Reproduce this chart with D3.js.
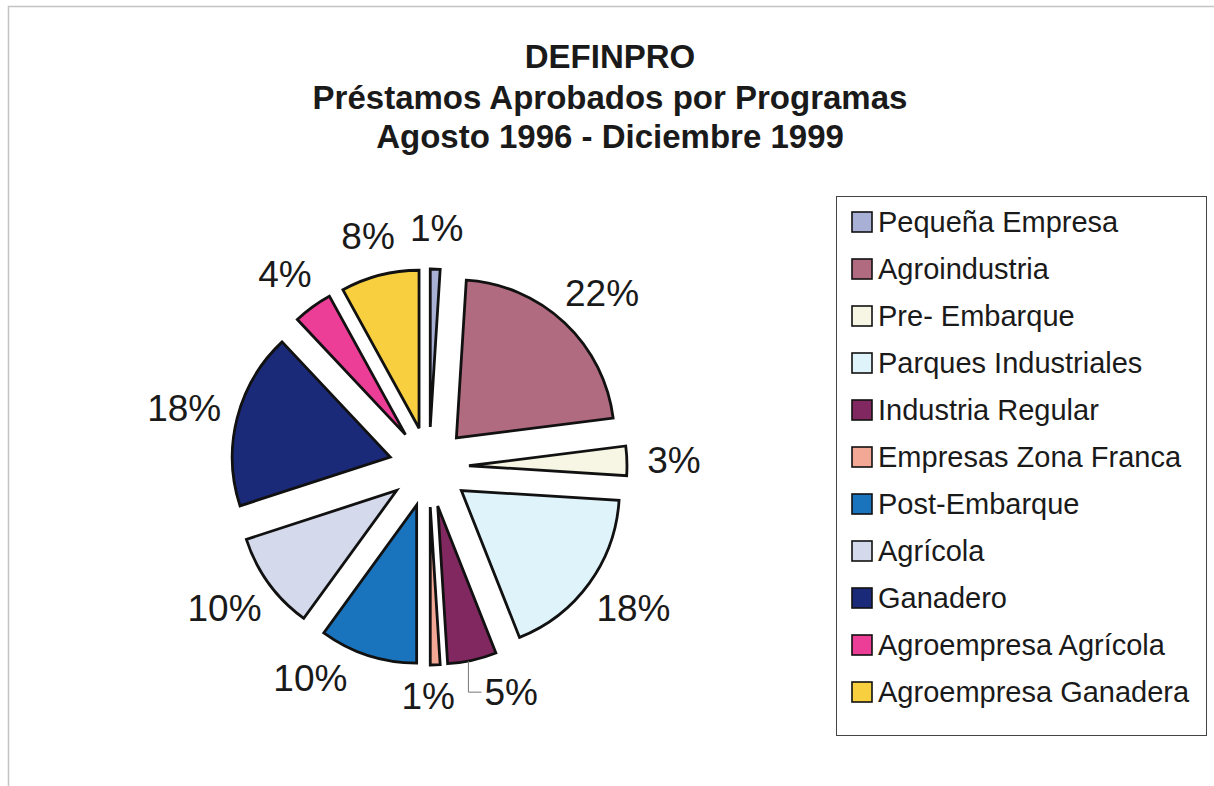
<!DOCTYPE html>
<html>
<head>
<meta charset="utf-8">
<script src="https://cdn.jsdelivr.net/npm/d3@7"></script>
<style>
  html, body { margin: 0; padding: 0; background: #ffffff; }
  svg { display: block; }
  text { font-family: Arial, "Liberation Sans", Helvetica, sans-serif; }
</style>
</head>
<body>
<svg id="chart" width="1214" height="786"></svg>
<script>
// ---- Data ----
const titleLines = ["DEFINPRO", "Préstamos Aprobados por Programas", "Agosto 1996 - Diciembre 1999"];
const categories = [
  "Pequeña Empresa", "Agroindustria", "Pre- Embarque", "Parques Industriales",
  "Industria Regular", "Empresas Zona Franca", "Post-Embarque", "Agrícola",
  "Ganadero", "Agroempresa Agrícola", "Agroempresa Ganadera"
];
const values = [1, 22, 3, 18, 5, 1, 10, 10, 18, 4, 8];
const colors = [
  "#a9b0d6", "#b06b80", "#f7f6e4", "#dff3fa", "#80285f", "#f3a795",
  "#1a74bd", "#d5d9ec", "#1b2a78", "#ec3d97", "#f7cf3f"
];

// ---- Layout ----
const svg = d3.select("#chart");
const cx = 429, cy = 467, radius = 158, explode = 40, labelR = 225;
const labelFont = 37;

// outer frame
svg.append("rect").attr("x", 8.5).attr("y", 6.5).attr("width", 1240).attr("height", 800)
  .attr("fill", "none").attr("stroke", "#c4c4c4").attr("stroke-width", 1.5);

// title
const titleY = [68, 109, 148];
titleLines.forEach((t, i) => {
  svg.append("text").attr("x", 610).attr("y", titleY[i]).attr("text-anchor", "middle")
    .attr("font-weight", "bold").attr("font-size", 33).attr("fill", "#1a1a1a").text(t);
});

const total = d3.sum(values);
const pie = d3.pie().sort(null).value(d => d)(values);
const arc = d3.arc().innerRadius(0).outerRadius(radius);

const g = svg.append("g").attr("transform", `translate(${cx},${cy})`);

// slices
pie.forEach((d, i) => {
  const mid = (d.startAngle + d.endAngle) / 2;
  const ox = Math.sin(mid) * explode, oy = -Math.cos(mid) * explode;
  g.append("path").attr("d", arc(d)).attr("transform", `translate(${ox},${oy})`)
    .attr("fill", colors[i]).attr("stroke", "#111").attr("stroke-width", 2.8)
    .attr("stroke-linejoin", "miter");
});

// labels (angle nudges resolve crowding at the bottom)
const nudgeDeg = {4: -7, 5: 2, 6: 10};
const leaderFor = new Set([4]);
pie.forEach((d, i) => {
  const mid = (d.startAngle + d.endAngle) / 2;
  const a = mid + (nudgeDeg[i] || 0) * Math.PI / 180;
  const txt = d3.format(".0%")(values[i] / total);
  const w = (txt.length - 1) * labelFont * 0.556 + labelFont * 0.889;
  const h = 28;
  const rr = (i === 5) ? labelR - 10 : labelR;
  const px = Math.sin(a) * rr + Math.sin(a) * w / 2 * 0.75;
  const py = -Math.cos(a) * rr - Math.cos(a) * h / 2;
  g.append("text").attr("x", px).attr("y", py).attr("dy", "0.36em")
    .attr("text-anchor", "middle").attr("font-size", labelFont).attr("fill", "#1a1a1a").text(txt);
  if (leaderFor.has(i)) {
    const ox = Math.sin(mid) * explode, oy = -Math.cos(mid) * explode;
    const ax = ox + Math.sin(mid) * (radius + 1), ay = oy - Math.cos(mid) * (radius + 1);
    const lx = ax - 4;
    g.append("path").attr("d", `M${lx},${ay}L${lx},${py}L${px - w / 2 - 3},${py}`)
      .attr("fill", "none").attr("stroke", "#777").attr("stroke-width", 1);
  }
});

// legend
const lg = svg.append("g");
lg.append("rect").attr("x", 836.5).attr("y", 196.5).attr("width", 370).attr("height", 539)
  .attr("fill", "#fff").attr("stroke", "#444").attr("stroke-width", 1);
const legY = d3.scalePoint().domain(categories).range([222, 692]);
categories.forEach((c, i) => {
  const y = legY(c);
  lg.append("rect").attr("x", 852).attr("y", y - 10).attr("width", 20).attr("height", 20)
    .attr("fill", colors[i]).attr("stroke", "#111").attr("stroke-width", 1.6);
  lg.append("text").attr("x", 878).attr("y", y).attr("dy", "0.36em")
    .attr("font-size", 29).attr("fill", "#1a1a1a").text(c);
});
</script>
</body>
</html>
